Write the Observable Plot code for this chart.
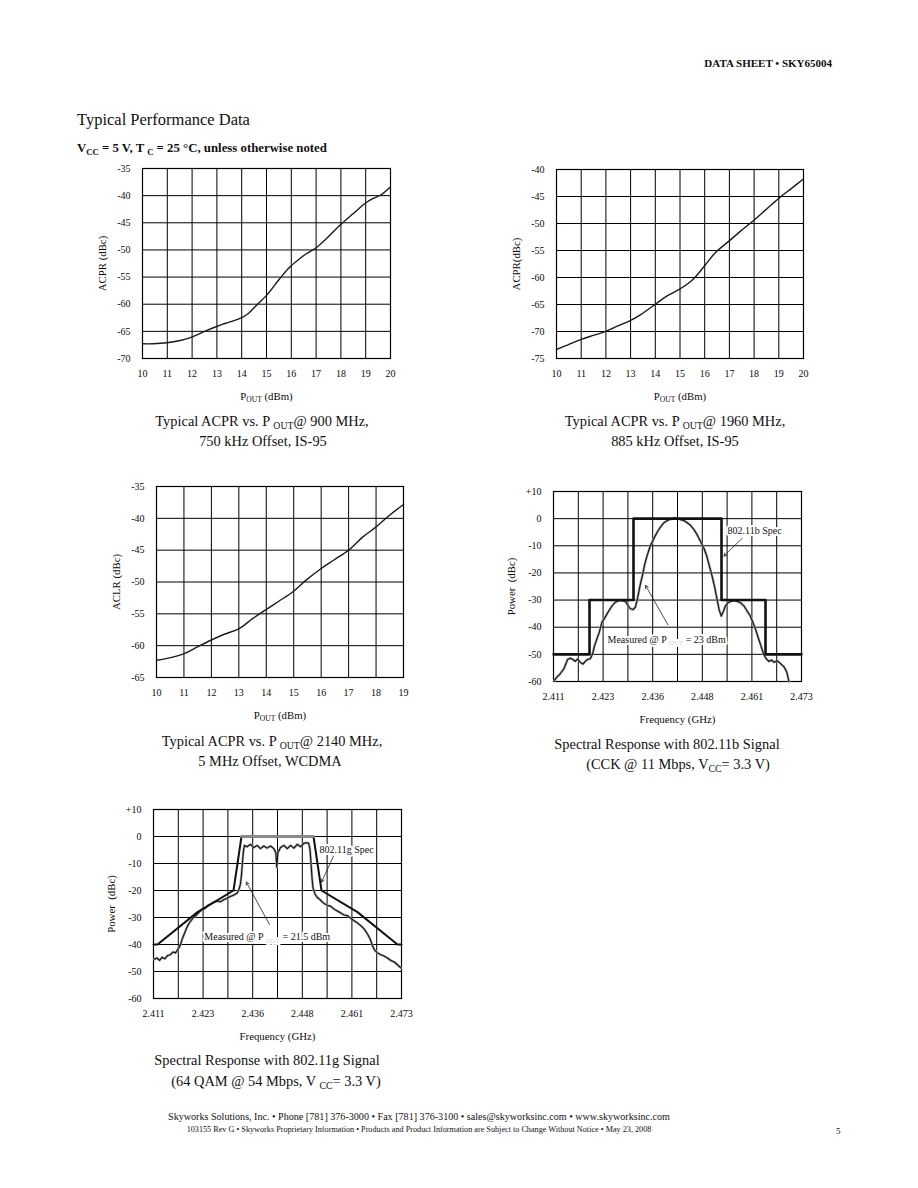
<!DOCTYPE html>
<html><head><meta charset="utf-8">
<script src="https://cdn.jsdelivr.net/npm/d3@7"></script>
<script src="https://cdn.jsdelivr.net/npm/@observablehq/plot@0.6"></script>
<style>
html,body{margin:0;padding:0;background:#fff;}
#page{position:relative;width:918px;height:1188px;overflow:hidden;font-family:"Liberation Serif","Times New Roman",serif;color:#111;background:#fff;}
.t{position:absolute;white-space:nowrap;line-height:1;}
.sub{font-size:.68em;position:relative;top:.28em;}
</style></head><body><div id="page"></div>
<script>
// ---------- data ----------
// ACPR @ 900 MHz
const pout900 = [10, 10.44, 10.98, 11.52, 11.99, 12.46, 12.99, 13.33, 13.93, 14.27, 14.60, 15.01, 15.54, 15.95, 16.35, 16.62, 17.02, 17.42, 17.96, 18.50, 18.97, 19.30, 19.64, 19.97];
const acpr900 = [-67.29, -67.29, -67.11, -66.68, -66.06, -65.08, -64.10, -63.55, -62.62, -61.70, -60.17, -58.33, -55.26, -53.11, -51.57, -50.65, -49.55, -47.89, -45.44, -43.29, -41.45, -40.52, -39.79, -38.50];
// ACPR @ 1960 MHz
const pout1960 = [10, 10.44, 10.98, 11.52, 12.02, 12.46, 12.96, 13.41, 13.98, 14.48, 15.02, 15.49, 15.96, 16.43, 16.97, 17.44, 17.98, 18.52, 19.06, 19.53, 19.97];
const acpr1960 = [-73.33, -72.53, -71.49, -70.68, -69.94, -69.02, -68.03, -66.86, -65.02, -63.41, -62.06, -60.52, -58.05, -55.40, -53.31, -51.46, -49.43, -47.27, -45.11, -43.45, -41.85];
// ACLR @ 2140 MHz
const pout2140 = [10, 10.52, 11.01, 11.49, 11.98, 12.47, 13.01, 13.50, 13.99, 14.47, 14.96, 15.44, 15.99, 16.48, 17.02, 17.51, 17.99, 18.48, 19.00];
const aclr2140 = [-62.29, -61.87, -61.24, -60.20, -59.15, -58.21, -57.32, -55.75, -54.34, -52.98, -51.57, -49.74, -47.91, -46.50, -44.93, -42.95, -41.38, -39.55, -37.82];

// 802.11b measured spectrum (GHz, dBc)
const freqB = [2.41117, 2.41184, 2.41250, 2.41309, 2.41367, 2.41451, 2.41518, 2.41585, 2.41643, 2.41702, 2.41769, 2.41835, 2.41894, 2.41952, 2.42019, 2.42078, 2.42128, 2.42186, 2.42245, 2.42312, 2.42370, 2.42437, 2.42504, 2.42571, 2.42646, 2.42729, 2.42813, 2.42897, 2.42963, 2.43022, 2.43089, 2.43147, 2.43189, 2.43231, 2.43273, 2.43323, 2.43373, 2.43440, 2.43523, 2.43607, 2.43691, 2.43774, 2.43858, 2.43958, 2.44067, 2.44175, 2.44276, 2.44359, 2.44443, 2.44527, 2.44610, 2.44694, 2.44777, 2.44861, 2.44928, 2.44995, 2.45062, 2.45129, 2.45195, 2.45245, 2.45295, 2.45346, 2.45396, 2.45463, 2.45530, 2.45613, 2.45697, 2.45780, 2.45864, 2.45947, 2.46014, 2.46081, 2.46148, 2.46215, 2.46282, 2.46349, 2.46416, 2.46482, 2.46549, 2.46616, 2.46700, 2.46783, 2.46867, 2.46934, 2.46984];
const powerB = [-59.6, -58.4, -57.5, -56.3, -55.1, -51.9, -51.4, -51.9, -52.6, -51.7, -52.9, -53.6, -52.6, -51.9, -51.6, -49.8, -46.7, -44.3, -41.8, -38.1, -36.9, -35.1, -33.5, -32.0, -30.8, -30.2, -30.2, -30.5, -32.0, -33.2, -33.5, -32.6, -30.2, -27.1, -24.0, -21.0, -17.3, -13.6, -9.9, -7.4, -5.0, -3.1, -1.5, -0.6, 0, 0.2, -0.4, -0.7, -1.5, -2.5, -4.0, -6.0, -8.4, -10.9, -13.6, -17.3, -21.0, -25.2, -30.2, -33.8, -35.9, -34.2, -32.2, -31.0, -30.5, -30.2, -30.5, -31.0, -32.2, -34.2, -35.7, -38.1, -40.6, -43.7, -46.7, -49.8, -51.6, -52.6, -52.1, -52.9, -52.4, -53.5, -54.7, -56.6, -60];
// 802.11b spectral mask
const maskBFreq = [2.411, 2.420, 2.420, 2.431, 2.431, 2.453, 2.453, 2.464, 2.464, 2.473];
const maskBPower = [-50, -50, -30, -30, 0, 0, -30, -30, -50, -50];

// 802.11g measured spectrum (GHz, dBc)
const freqG = [2.41117, 2.41184, 2.41250, 2.41317, 2.41384, 2.41451, 2.41518, 2.41585, 2.41651, 2.41718, 2.41768, 2.41819, 2.41869, 2.41919, 2.41977, 2.42036, 2.42103, 2.42170, 2.42236, 2.42312, 2.42387, 2.42454, 2.42521, 2.42604, 2.42688, 2.42771, 2.42855, 2.42938, 2.43022, 2.43105, 2.43189, 2.43239, 2.43273, 2.43298, 2.43323, 2.43348, 2.43373, 2.43440, 2.43523, 2.43607, 2.43691, 2.43774, 2.43858, 2.43941, 2.44025, 2.44109, 2.44159, 2.44183, 2.44208, 2.44276, 2.44359, 2.44443, 2.44527, 2.44610, 2.44694, 2.44777, 2.44861, 2.44928, 2.44978, 2.45012, 2.45037, 2.45062, 2.45087, 2.45128, 2.45195, 2.45262, 2.45329, 2.45396, 2.45463, 2.45529, 2.45613, 2.45696, 2.45780, 2.45864, 2.45947, 2.46031, 2.46114, 2.46198, 2.46281, 2.46365, 2.46448, 2.46515, 2.46573, 2.46632, 2.46699, 2.46782, 2.46866, 2.46949, 2.47033, 2.47117, 2.47200, 2.47284];
const powerG = [-45.5, -45.0, -45.9, -44.7, -45.3, -44.1, -43.8, -42.8, -43.1, -41.6, -40.4, -37.9, -36.1, -34.2, -32.4, -31.2, -29.9, -29.1, -28.1, -27.1, -26.6, -25.6, -25.1, -24.4, -23.9, -24.2, -23.4, -22.9, -22.2, -21.7, -21.0, -19.5, -17.6, -14.6, -9.7, -5.4, -3.3, -3.8, -2.9, -4.1, -3.3, -4.5, -3.5, -4.3, -3.5, -4.5, -6.0, -11.5, -6.0, -4.1, -3.3, -4.5, -3.3, -4.3, -2.9, -3.8, -2.5, -2.3, -2.5, -4.7, -9.7, -15.2, -18.9, -21.0, -22.6, -23.4, -24.4, -25.1, -25.6, -25.8, -26.9, -27.6, -28.3, -29.1, -29.3, -30.3, -31.2, -32.0, -33.0, -34.2, -36.1, -37.9, -40.4, -42.2, -43.1, -43.8, -44.3, -45.0, -45.9, -46.5, -47.5, -48.7];
// 802.11g spectral mask
const maskGFreq = [2.411, 2.412, 2.422, 2.431, 2.433, 2.451, 2.453, 2.462, 2.472, 2.473];
const maskGPower = [-40, -40, -28, -20, 0, 0, -20, -28, -40, -40];

// ticks
const poutTicks20 = [10, 11, 12, 13, 14, 15, 16, 17, 18, 19, 20];
const poutTicks19 = [10, 11, 12, 13, 14, 15, 16, 17, 18, 19];
const acpr900Ticks = [-35, -40, -45, -50, -55, -60, -65, -70];
const acpr1960Ticks = [-40, -45, -50, -55, -60, -65, -70, -75];
const aclr2140Ticks = [-35, -40, -45, -50, -55, -60, -65];
const freqGrid = [2.411, 2.4172, 2.4234, 2.4296, 2.4358, 2.442, 2.4482, 2.4544, 2.4606, 2.4668, 2.473];
const freqTicks = [2.411, 2.4234, 2.4358, 2.4482, 2.4606, 2.473];
const freqTickLabels = ["2.411", "2.423", "2.436", "2.448", "2.461", "2.473"];
const powerTicks = [10, 0, -10, -20, -30, -40, -50, -60];

// annotations (data coordinates)
const notesB = [{x: 2.4545, y: -4.3, text: "802.11b Spec"}, {x: 2.4245, y: -44.5, text: "Measured @ P ~{OUT} = 23 dBm"}];
const arrowsB = [{x1: 2.4582, y1: -7.2, x2: 2.4536, y2: -13.8}, {x1: 2.4396, y1: -39.1, x2: 2.4340, y2: -24.6}];
const notesG = [{x: 2.4525, y: -4.9, text: "802.11g Spec"}, {x: 2.4237, y: -37.3, text: "Measured @ P ~{OUT} = 21.5 dBm"}];
const arrowsG = [{x1: 2.4560, y1: -7.3, x2: 2.4530, y2: -16.9}, {x1: 2.4400, y1: -32.6, x2: 2.4342, y2: -16.9}];

// ---------- helpers ----------
const page = document.getElementById("page");
const SVGNS = "http://www.w3.org/2000/svg";
const baseStyle = {fontFamily: "'Liberation Serif', 'Times New Roman', serif", fontSize: "10px", background: "transparent", color: "#0a0a0a", overflow: "visible"};

function richText(svg) {
  svg.querySelectorAll("text").forEach(t => {
    const s = t.textContent;
    if (!/[_~]\{/.test(s)) return;
    while (t.firstChild) t.removeChild(t.firstChild);
    const re = /([_~])\{([^}]*)\}/g;
    let last = 0, m, shift = 0;
    const add = (str, sub, faded) => {
      const ts = document.createElementNS(SVGNS, "tspan");
      ts.textContent = str;
      const want = sub ? 2.5 : 0;
      if (want !== shift) { ts.setAttribute("dy", want - shift); shift = want; }
      if (sub) ts.style.fontSize = "70%";
      if (faded) ts.setAttribute("fill", "#d4d4d4");
      t.appendChild(ts);
    };
    while ((m = re.exec(s))) {
      if (m.index > last) add(s.slice(last, m.index), false, false);
      add(m[2], true, m[1] === "~");
      last = re.lastIndex;
    }
    if (last < s.length) add(s.slice(last), false, false);
  });
}

function mount(svg, frame, m) {
  richText(svg);
  // axis titles are slightly larger than tick labels
  svg.querySelectorAll('g[aria-label="x-axis label"] text, g[aria-label="y-axis label"] text').forEach(t => t.style.fontSize = "10.8px");
  svg.style.position = "absolute";
  svg.style.left = (frame.l - m.l) + "px";
  svg.style.top = (frame.t - m.t) + "px";
  page.appendChild(svg);
}

const M = {l: 60, r: 15, t: 15, b: 55};

function acprChart({xs, ys, xTicks, yTicks, yLabel, frame}) {
  const data = xs.map((x, i) => ({x, y: ys[i]}));
  const svg = Plot.plot({
    width: M.l + frame.r - frame.l + M.r,
    height: M.t + frame.b - frame.t + M.b,
    marginLeft: M.l, marginRight: M.r, marginTop: M.t, marginBottom: M.b,
    style: baseStyle,
    x: {domain: [xTicks[0], xTicks[xTicks.length - 1]]},
    y: {domain: [d3.min(yTicks), d3.max(yTicks)]},
    marks: [
      Plot.gridX({ticks: xTicks, stroke: "#000", strokeOpacity: 1, strokeWidth: 1}),
      Plot.gridY({ticks: yTicks, stroke: "#000", strokeOpacity: 1, strokeWidth: 1}),
      Plot.frame({stroke: "#000", strokeWidth: 1.2}),
      Plot.line(data, {x: "x", y: "y", stroke: "#1a1a1a", strokeWidth: 1.4, curve: "catmull-rom"}),
      Plot.axisX({ticks: xTicks, tickSize: 0, tickPadding: 11, tickFormat: d => String(d), label: "P_{OUT} (dBm)", labelAnchor: "center", labelOffset: 41, labelArrow: "none"}),
      Plot.axisY({ticks: yTicks, tickSize: 0, tickPadding: 12, tickFormat: d => String(d), label: yLabel, labelAnchor: "center", labelOffset: 44, labelArrow: "none"})
    ]
  });
  mount(svg, frame, M);
}

function spectrumChart({fx, py, mfx, mpy, notes, arrows, frame, maskWidth, topGray}) {
  const meas = fx.map((x, i) => ({x, y: py[i]}));
  const mask = mfx.map((x, i) => ({x, y: mpy[i]}));
  const marks = [
    Plot.gridX({ticks: freqGrid, stroke: "#000", strokeOpacity: 1, strokeWidth: 1}),
    Plot.gridY({ticks: powerTicks, stroke: "#000", strokeOpacity: 1, strokeWidth: 1}),
    Plot.frame({stroke: "#000", strokeWidth: 1.2}),
    Plot.line(meas, {x: "x", y: "y", stroke: "#a0a0a0", strokeWidth: 2.4}),
    Plot.line(meas, {x: "x", y: "y", stroke: "#151515", strokeWidth: 1.1}),
    Plot.line(mask, {x: "x", y: "y", stroke: "#111", strokeWidth: maskWidth})
  ];
  if (topGray) marks.push(Plot.line(mask.filter(d => d.y === 0), {x: "x", y: "y", stroke: "#8c8c8c", strokeWidth: maskWidth + 0.6}));
  marks.push(
    Plot.arrow(arrows, {x1: "x1", y1: "y1", x2: "x2", y2: "y2", stroke: "#222", strokeWidth: 0.8, headLength: 6}),
    Plot.text(notes, {x: "x", y: "y", text: "text", textAnchor: "start", fontSize: 10, fill: "#111", stroke: "white", strokeWidth: 4}),
    Plot.axisX({ticks: freqTicks, tickSize: 0, tickPadding: 11, tickFormat: d => freqTickLabels[freqTicks.indexOf(d)], label: "Frequency (GHz)", labelAnchor: "center", labelOffset: 41, labelArrow: "none"}),
    Plot.axisY({ticks: powerTicks, tickSize: 0, tickPadding: 12, tickFormat: d => d > 0 ? "+" + d : String(d), label: "Power\u00a0 (dBc)", labelAnchor: "center", labelOffset: 46, labelArrow: "none"})
  );
  const svg = Plot.plot({
    width: M.l + frame.r - frame.l + M.r,
    height: M.t + frame.b - frame.t + M.b,
    marginLeft: M.l, marginRight: M.r, marginTop: M.t, marginBottom: M.b,
    style: baseStyle,
    x: {domain: [2.411, 2.473]},
    y: {domain: [-60, 10]},
    marks
  });
  mount(svg, frame, M);
}

function addText(html, {x, y, size, anchor = "start", weight = "normal", color = "#111"}) {
  const d = document.createElement("div");
  d.className = "t";
  d.innerHTML = html;
  d.style.fontSize = size + "px";
  d.style.fontWeight = weight;
  d.style.color = color;
  d.style.top = (y - 0.8375 * size) + "px";
  if (anchor === "start") d.style.left = x + "px";
  else if (anchor === "end") d.style.right = (918 - x) + "px";
  else { d.style.left = (x - 300) + "px"; d.style.width = "600px"; d.style.textAlign = "center"; }
  page.appendChild(d);
}

// ---------- charts ----------
acprChart({xs: pout900, ys: acpr900, xTicks: poutTicks20, yTicks: acpr900Ticks, yLabel: "ACPR (dBc)", frame: {l: 142, r: 390, t: 168, b: 358}});
acprChart({xs: pout1960, ys: acpr1960, xTicks: poutTicks20, yTicks: acpr1960Ticks, yLabel: "ACPR(dBc)", frame: {l: 556, r: 803, t: 169, b: 358}});
acprChart({xs: pout2140, ys: aclr2140, xTicks: poutTicks19, yTicks: aclr2140Ticks, yLabel: "ACLR (dBc)", frame: {l: 156, r: 403, t: 486, b: 677}});
spectrumChart({fx: freqB, py: powerB, mfx: maskBFreq, mpy: maskBPower, notes: notesB, arrows: arrowsB, frame: {l: 553, r: 801, t: 491, b: 681}, maskWidth: 2.6, topGray: false});
spectrumChart({fx: freqG, py: powerG, mfx: maskGFreq, mpy: maskGPower, notes: notesG, arrows: arrowsG, frame: {l: 153, r: 401, t: 809, b: 998}, maskWidth: 2.0, topGray: true});

// ---------- page text ----------
addText("DATA SHEET \u2022 SKY65004", {x: 832, y: 67, size: 11, anchor: "end", weight: "bold"});
addText("Typical Performance Data", {x: 77, y: 126, size: 16.5});
addText('V<span class="sub">CC</span> = 5 V, T <span class="sub">C</span> = 25 \u00b0C, unless otherwise noted', {x: 77, y: 153, size: 12.8, weight: "bold"});

const cap = 14.4;
addText('Typical ACPR vs. P <span class="sub">OUT</span>@ 900 MHz,', {x: 262, y: 426, size: cap, anchor: "middle"});
addText("750 kHz Offset, IS-95", {x: 263, y: 446, size: cap, anchor: "middle"});
addText('Typical ACPR vs. P <span class="sub">OUT</span>@ 1960 MHz,', {x: 675, y: 426, size: cap, anchor: "middle"});
addText("885 kHz Offset, IS-95", {x: 675, y: 446, size: cap, anchor: "middle"});
addText('Typical ACPR vs. P <span class="sub">OUT</span>@ 2140 MHz,', {x: 272, y: 746, size: cap, anchor: "middle"});
addText("5 MHz Offset, WCDMA", {x: 270, y: 766, size: cap, anchor: "middle"});
addText("Spectral Response with 802.11b Signal", {x: 667, y: 749, size: cap, anchor: "middle"});
addText('(CCK @ 11 Mbps, V<span class="sub">CC</span>= 3.3 V)', {x: 678, y: 769, size: cap, anchor: "middle"});
addText("Spectral Response with 802.11g Signal", {x: 267, y: 1065, size: cap, anchor: "middle"});
addText('(64 QAM @ 54 Mbps, V <span class="sub">CC</span>= 3.3 V)', {x: 276, y: 1086, size: cap, anchor: "middle"});

addText("Skyworks Solutions, Inc. \u2022 Phone [781] 376-3000 \u2022 Fax [781] 376-3100 \u2022 sales@skyworksinc.com \u2022 www.skyworksinc.com", {x: 419, y: 1120, size: 10.1, anchor: "middle"});
addText("103155 Rev G \u2022 Skyworks Proprietary Information \u2022 Products and Product Information are Subject to Change Without Notice \u2022 May 23, 2008", {x: 419, y: 1133, size: 8.2, anchor: "middle"});
addText("5", {x: 836, y: 1135, size: 9});
</script></body></html>
